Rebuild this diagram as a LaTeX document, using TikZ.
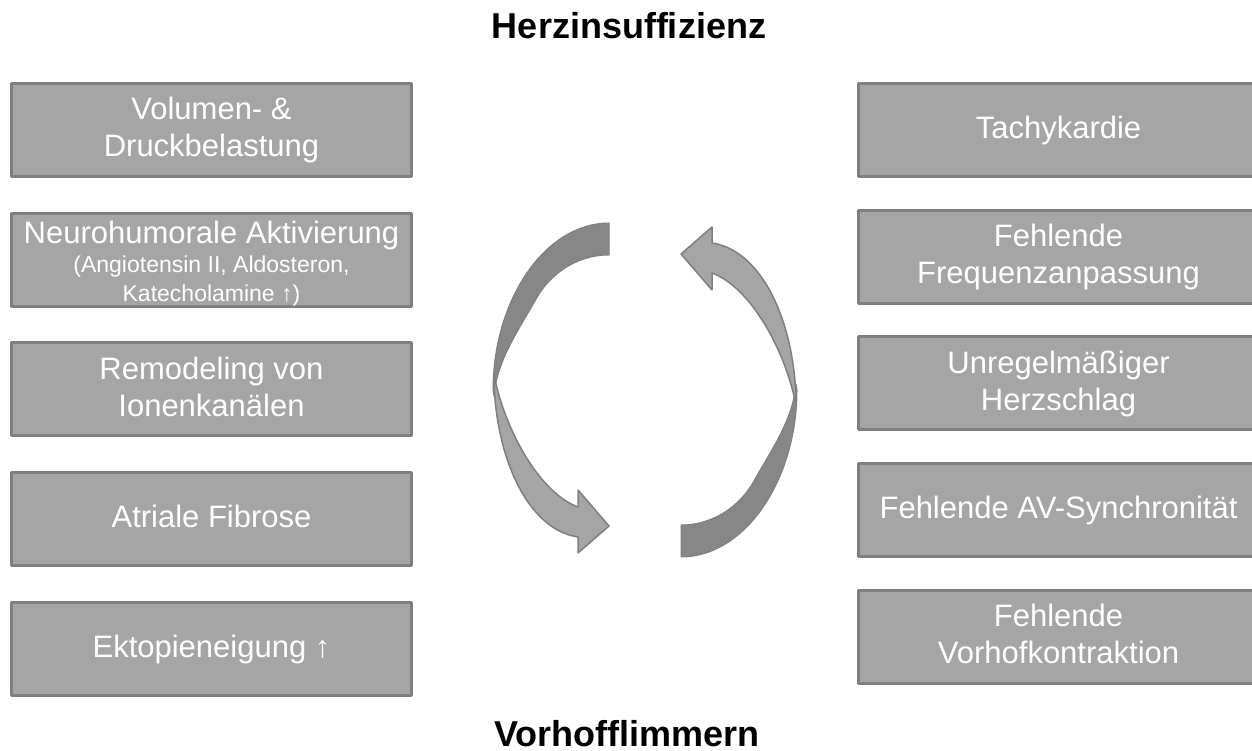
\documentclass[tikz,border=0pt]{standalone}
\usepackage{fontspec}
\setmainfont{Liberation Sans}
\usetikzlibrary{arrows}

\definecolor{boxfill}{HTML}{A5A5A5}
\definecolor{boxline}{HTML}{7F7F7F}
\definecolor{backside}{HTML}{878787}

% struts, so that every line sits at the same place in its box
\newcommand\st{\rule[-7bp]{0pt}{31bp}}
\setlength{\lineskiplimit}{-100bp}

\begin{document}
\begin{tikzpicture}[line join=bevel,
  factor/.style={draw=boxline, fill=boxfill, line width=3bp, text=white,
    align=center, minimum width=400bp, minimum height=93bp, inner sep=0pt,
    font=\fontsize{31bp}{37bp}\selectfont},
  headline/.style={anchor=base, font=\fontsize{36bp}{43bp}\selectfont\bfseries},
  backside/.style={fill=backside, draw=boxline, line width=1bp},
  frontside/.style={fill=boxfill, draw=boxline, line width=1.5bp}]
\useasboundingbox (0bp,0bp) rectangle (1252bp,751bp);

% Node: hi
\node[headline] (hi) at (629bp,712bp) {Herzinsuffizienz};
% Node: vhf
\node[headline] (vhf) at (627bp,5bp) {Vorhofflimmern};

% Node: volumen
\node[factor] (volumen) at (211.5bp,621bp) {\st Volumen- \&\\\st Druckbelastung};
% Node: neuro
\node[factor, font=\fontsize{31bp}{29bp}\selectfont]
  (neuro) at (211.5bp,490.5bp) {\rule{0pt}{30bp}Neurohumorale Aktivierung\\
  \fontsize{23bp}{29bp}\selectfont (Angiotensin II, Aldosteron,\\
  \fontsize{23bp}{29bp}\selectfont\rule[-5bp]{0pt}{0pt}Katecholamine ↑)};
% Node: ionen
\node[factor] (ionen) at (211.5bp,361.5bp) {\st Remodeling von\\\st Ionenkanälen};
% Node: fibrose
\node[factor] (fibrose) at (211.5bp,231.5bp) {\st Atriale Fibrose};
% Node: ektopie
\node[factor] (ektopie) at (211.5bp,102bp) {\st Ektopieneigung ↑};

% Node: tachy
\node[factor] (tachy) at (1058.5bp,621bp) {\st Tachykardie};
% Node: frequenz
\node[factor] (frequenz) at (1058.5bp,494bp) {\st Fehlende\\\st Frequenzanpassung};
% Node: rhythmus
\node[factor] (rhythmus) at (1058.5bp,367.5bp) {\st Unregelmäßiger\\\st Herzschlag};
% Node: avsync
\node[factor] (avsync) at (1058.5bp,241bp) {\st Fehlende AV-Synchronität};
% Node: kontraktion
\node[factor] (kontraktion) at (1058.5bp,114bp) {\st Fehlende\\\st Vorhofkontraktion};

% Arrows: the same bent arrow, once down the left side, once turned up the right side
\foreach \turn in {0,180} {
  \begin{scope}[rotate around={\turn:(645bp,361bp)}]
    % back side, from the tail to the twist
    \draw[backside] (609bp,528bp) .. controls (545bp,528bp) and (493bp,451bp) .. (493bp,361bp)
      -- (494bp,355bp) .. controls (497bp,390bp) and (518bp,420bp) .. (535bp,450bp)
      .. controls (548bp,475bp) and (575bp,496bp) .. (609bp,496bp) -- cycle;
    % front side, from the twist to the head
    \draw[frontside] (494bp,376bp) .. controls (494bp,300bp) and (525bp,222bp) .. (578bp,214bp)
      -- (578bp,198bp) -- (609bp,225bp) -- (578bp,261bp) -- (578bp,244bp)
      .. controls (540bp,258bp) and (505bp,320bp) .. (494bp,376bp) -- cycle;
  \end{scope}
}
%
\end{tikzpicture}
\end{document}
